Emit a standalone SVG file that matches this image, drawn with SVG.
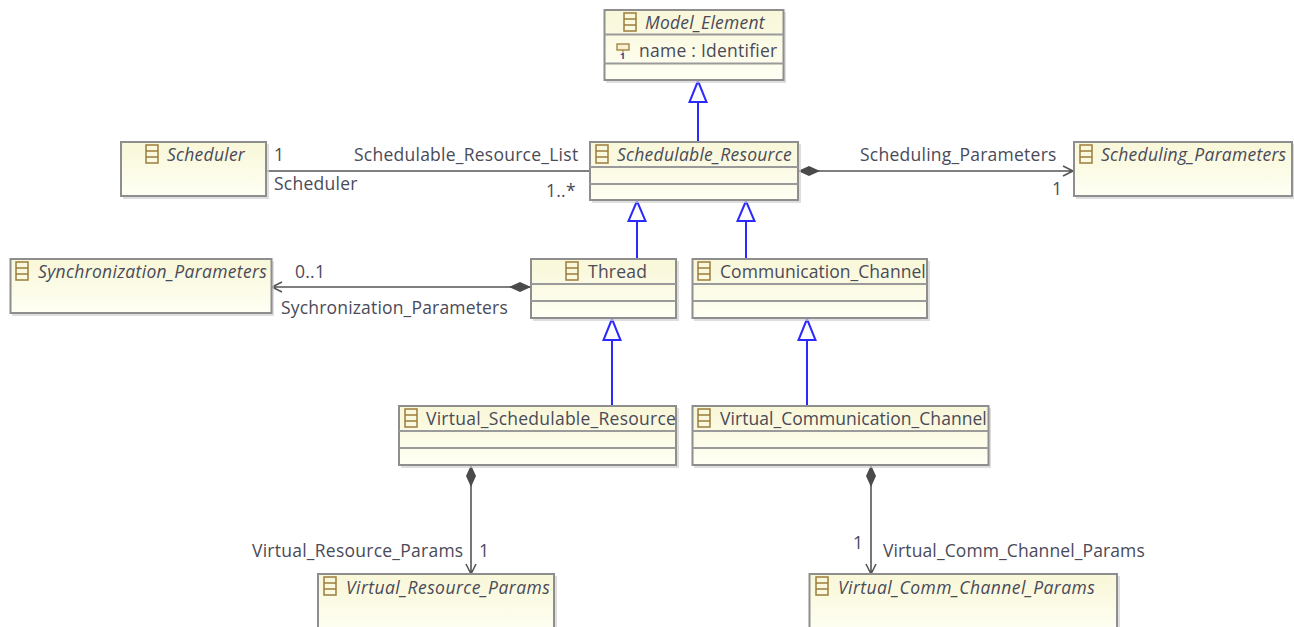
<svg xmlns="http://www.w3.org/2000/svg" width="1294" height="627" viewBox="0 0 1294 627">
<style>
text{font-family:"Open Sans","Noto Sans","Liberation Sans",sans-serif;font-size:17.5px;letter-spacing:.25px;fill:#4a4a58}
.i{font-style:italic}
.box{fill:url(#g);stroke:#8e8e8e;stroke-width:2}
.sh{fill:#d0d0d0;opacity:.7}
.div{stroke:#9a9a9a;stroke-width:2;fill:none}
.ln{stroke:#555;stroke-width:1.6;fill:none}
.gen{stroke:#2a2aff;stroke-width:2;fill:none}
.tri{stroke:#2a2aff;stroke-width:2;fill:#fff}
.dia{fill:#4a4a4a;stroke:none}
.ic{fill:none;stroke:#9c7c3c;stroke-width:1.5}
</style>
<defs>
<linearGradient id="g" x1="0" y1="0" x2="0" y2="1"><stop offset="0" stop-color="#f8f7d8"/><stop offset="1" stop-color="#fffff4"/></linearGradient>
<g id="icon"><rect class="ic" x="0" y="0" width="12" height="18"/><path class="ic" d="M0 6H12M0 12H12"/></g>
</defs>
<rect width="1294" height="627" fill="#fff"/>
<g id="connectors">
<path class="ln" d="M266 171H590"/>
<path class="ln" d="M798 171H1073M1063 166L1073 171L1063 176"/>
<path class="dia" d="M798 171L809 166L820 171L809 176Z"/>
<path class="ln" d="M272 287H531M282 282L272 287L282 292"/>
<path class="dia" d="M531 287L520 282L509 287L520 292Z"/>
<path class="ln" d="M471 465V574M466 564L471 574L476 564"/>
<path class="dia" d="M471 465L466 476L471 487L476 476Z"/>
<path class="ln" d="M871 465V574M866 564L871 574L876 564"/>
<path class="dia" d="M871 465L866 476L871 487L876 476Z"/>
<path class="gen" d="M698 142V102M637 259V221M746 259V221M612 406V340M807 406V340"/>
<path class="tri" d="M698 81L689.500 102H706.500Z"/>
<path class="tri" d="M637 201L628.500 221H645.500Z"/>
<path class="tri" d="M746 201L737.500 221H754.500Z"/>
<path class="tri" d="M612 319L603.500 340H620.500Z"/>
<path class="tri" d="M807 319L798.500 340H815.500Z"/>
<text x="274" y="161">1</text>
<text x="274" y="190">Scheduler</text>
<text x="354" y="161">Schedulable_Resource_List</text>
<text x="546" y="197">1..*</text>
<text x="860" y="161">Scheduling_Parameters</text>
<text x="1052" y="195">1</text>
<text x="295" y="278">0..1</text>
<text x="281" y="314" textLength="227">Sychronization_Parameters</text>
<text x="252" y="557">Virtual_Resource_Params</text>
<text x="479" y="557">1</text>
<text x="853" y="549">1</text>
<text x="883" y="557" textLength="262">Virtual_Comm_Channel_Params</text>
</g>
<g id="model-element">
<rect class="sh" x="606" y="12" width="180" height="71"/>
<rect class="box" x="604.500" y="10" width="179" height="70"/>
<path class="div" d="M604.500 34.500H783.500M604.500 63.500H783.500"/>
<use href="#icon" x="624" y="13"/>
<text class="i" x="645" y="29">Model_Element</text>
<rect x="617" y="44" width="12" height="6" fill="#f8f0d0" stroke="#9c7c3c" stroke-width="1.300"/>
<path d="M623 50V53" stroke="#9c7c3c" fill="none"/>
<text x="620" y="59" style="font-size:9px;font-weight:bold;fill:#27408b;letter-spacing:0">1</text>
<text x="639" y="57">name : Identifier</text>
</g>
<g id="schedulable-resource">
<rect class="sh" x="592" y="144" width="209" height="59"/>
<rect class="box" x="590" y="142" width="208" height="58"/>
<path class="div" d="M590 167H798M590 184H798"/>
<use href="#icon" x="596" y="145"/>
<text class="i" x="617" y="161">Schedulable_Resource</text>
</g>
<g id="scheduler">
<rect class="sh" x="123" y="144" width="146" height="55"/>
<rect class="box" x="121" y="142" width="145" height="54"/>
<use href="#icon" x="146" y="145"/>
<text class="i" x="167" y="161">Scheduler</text>
</g>
<g id="scheduling-parameters">
<rect class="sh" x="1076" y="144" width="219" height="55"/>
<rect class="box" x="1074" y="142" width="218" height="54"/>
<use href="#icon" x="1080" y="145"/>
<text class="i" x="1101" y="161">Scheduling_Parameters</text>
</g>
<g id="synchronization-parameters">
<rect class="sh" x="12" y="261" width="262" height="55"/>
<rect class="box" x="10.500" y="259" width="261" height="54"/>
<use href="#icon" x="16" y="262"/>
<text class="i" x="38" y="278" textLength="229">Synchronization_Parameters</text>
</g>
<g id="thread">
<rect class="sh" x="533" y="261" width="146" height="60"/>
<rect class="box" x="531" y="259" width="145" height="59"/>
<path class="div" d="M531 284H676M531 301H676"/>
<use href="#icon" x="566" y="262"/>
<text x="588" y="278">Thread</text>
</g>
<g id="communication-channel">
<rect class="sh" x="694" y="261" width="236" height="60"/>
<rect class="box" x="692.500" y="259" width="234.500" height="59"/>
<path class="div" d="M692.500 284H927M692.500 301H927"/>
<use href="#icon" x="698" y="262"/>
<text x="720" y="278" textLength="206">Communication_Channel</text>
</g>
<g id="virtual-schedulable-resource">
<rect class="sh" x="401" y="408" width="278" height="60"/>
<rect class="box" x="399" y="406" width="277" height="59"/>
<path class="div" d="M399 431H676M399 448H676"/>
<use href="#icon" x="405" y="409"/>
<text x="426" y="425">Virtual_Schedulable_Resource</text>
</g>
<g id="virtual-communication-channel">
<rect class="sh" x="694" y="408" width="297" height="60"/>
<rect class="box" x="692.500" y="406" width="296" height="59"/>
<path class="div" d="M692.500 431H988.500M692.500 448H988.500"/>
<use href="#icon" x="698" y="409"/>
<text x="720" y="425" textLength="267">Virtual_Communication_Channel</text>
</g>
<g id="virtual-resource-params">
<rect class="sh" x="320" y="576" width="237" height="60"/>
<rect class="box" x="318" y="574" width="236" height="60"/>
<use href="#icon" x="324" y="577"/>
<text class="i" x="346" y="594" textLength="204">Virtual_Resource_Params</text>
</g>
<g id="virtual-comm-channel-params">
<rect class="sh" x="811" y="576" width="309" height="60"/>
<rect class="box" x="809.500" y="574" width="307.500" height="60"/>
<use href="#icon" x="816" y="577"/>
<text class="i" x="838" y="594" textLength="257">Virtual_Comm_Channel_Params</text>
</g>
</svg>
